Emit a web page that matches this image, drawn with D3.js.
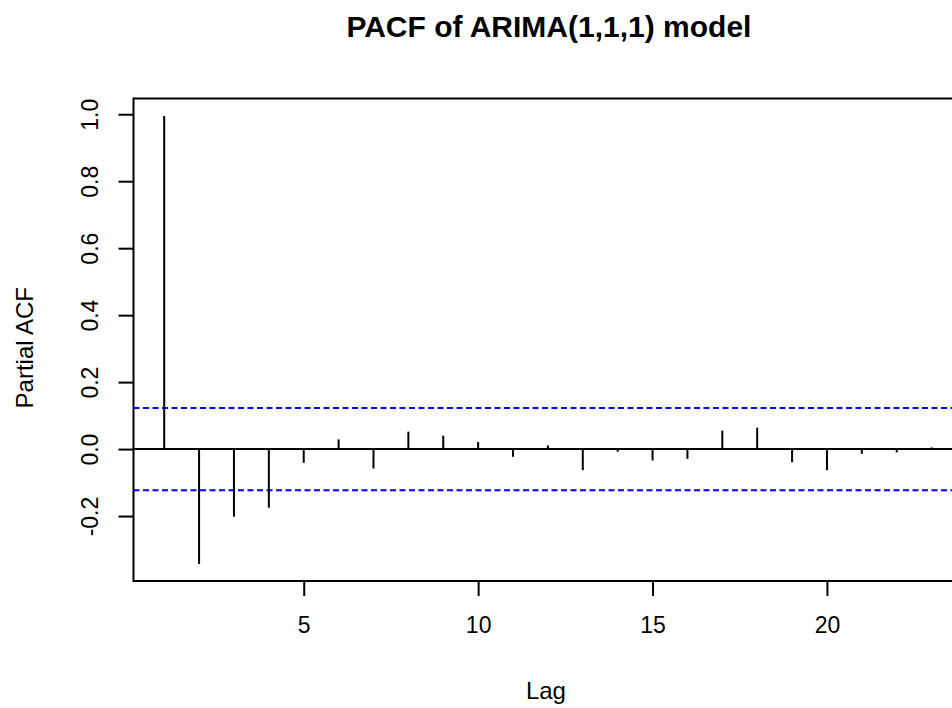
<!DOCTYPE html>
<html>
<head>
<meta charset="utf-8">
<script src="https://cdn.jsdelivr.net/npm/d3@7"></script>
<style>
  body { margin: 0; background: #fff; }
  svg { display: block; font-family: "Liberation Sans", Arial, sans-serif; }
</style>
</head>
<body>
<script>
(function() {

// lags and partial autocorrelations
var lags = [1, 2, 3, 4, 5, 6, 7, 8, 9, 10, 11, 12, 13, 14, 15, 16, 17, 18, 19, 20, 21, 22, 23];
var pacfValues = [0.995, -0.343, -0.202, -0.175, -0.041, 0.029, -0.058, 0.052, 0.040, 0.021, -0.023,
  0.011, -0.063, -0.008, -0.034, -0.029, 0.055, 0.064, -0.039, -0.063, -0.014, -0.010, 0.005];
var ciBound = 0.123;
var xTicks = [5, 10, 15, 20];
var yTicks = [-0.2, 0.0, 0.2, 0.4, 0.6, 0.8, 1.0];

var width = 952, height = 708;
var left = 133.5, top = 98.5, bottom = 581;
var lw = 2;

var data = lags.map(function(l, i) { return { lag: l, value: pacfValues[i] }; });

// R style xlim: 4% padding each side
var pad = 0.04 * (lags[lags.length - 1] - lags[0]);
var x = d3.scaleLinear().
  domain([lags[0] - pad, lags[lags.length - 1] + pad]).
  range([left, 962.3]);

var y = d3.scaleLinear().
  domain([-0.394, 1.047]).
  range([bottom, top]);

var svg = d3.select("body").
  append("svg").
  attr("width", width).
  attr("height", height);

var right = x.range()[1];
var mid = (left + right) / 2;

svg.append("text").
  attr("x", mid + 1).
  attr("y", 37).
  attr("text-anchor", "middle").
  attr("font-size", 30).
  attr("font-weight", "bold").
  attr("fill", "#000").
  text("PACF of ARIMA(1,1,1) model");

// plot box
svg.append("rect").
  attr("x", left).
  attr("y", top).
  attr("width", right - left).
  attr("height", bottom - top).
  attr("fill", "none").
  attr("stroke", "#000").
  attr("stroke-width", lw);

// zero line
svg.append("line").
  attr("x1", left).
  attr("x2", right).
  attr("y1", y(0)).
  attr("y2", y(0)).
  attr("stroke", "#000").
  attr("stroke-width", lw);

// confidence bounds
svg.selectAll("line.ci").
  data([ciBound, -ciBound]).
  enter().append("line").
  attr("class", "ci").
  attr("x1", left).
  attr("x2", right).
  attr("y1", function(d) { return y(d); }).
  attr("y2", function(d) { return y(d); }).
  attr("stroke", "#0000ff").
  attr("stroke-width", lw).
  attr("stroke-dasharray", "6,3.5");

// spikes
svg.selectAll("line.spike").
  data(data).
  enter().append("line").
  attr("class", "spike").
  attr("x1", function(d) { return x(d.lag); }).
  attr("x2", function(d) { return x(d.lag); }).
  attr("y1", y(0)).
  attr("y2", function(d) { return y(d.value); }).
  attr("stroke", "#000").
  attr("stroke-width", lw);

// axes
var xAxis = svg.append("g").
  attr("transform", "translate(0," + bottom + ")").
  call(d3.axisBottom(x).tickValues(xTicks).tickSize(15).tickFormat(d3.format("d")));

xAxis.select(".domain").remove();
xAxis.selectAll(".tick line").attr("stroke", "#000").attr("stroke-width", lw);
xAxis.selectAll(".tick text").
  attr("y", 52).
  attr("dy", 0).
  attr("font-size", 23).
  attr("font-family", "Liberation Sans, Arial, sans-serif").
  attr("fill", "#000");

var yAxis = svg.append("g").
  attr("transform", "translate(" + left + ",0)").
  call(d3.axisLeft(y).tickValues(yTicks).tickSize(15).tickFormat(d3.format(".1f")));

yAxis.select(".domain").remove();
yAxis.selectAll(".tick line").attr("stroke", "#000").attr("stroke-width", lw);
yAxis.selectAll(".tick text").
  attr("transform", "rotate(-90)").
  attr("x", 0).
  attr("y", -36).
  attr("dy", 0).
  attr("text-anchor", "middle").
  attr("font-size", 23).
  attr("font-family", "Liberation Sans, Arial, sans-serif").
  attr("fill", "#000").
  text(function(d) { return d3.format(".1f")(d).replace("\u2212", "-"); });

// axis titles
svg.append("text").
  attr("x", mid - 2).
  attr("y", 699).
  attr("text-anchor", "middle").
  attr("font-size", 24).
  attr("fill", "#000").
  text("Lag");

svg.append("text").
  attr("transform", "translate(33," + ((top + bottom) / 2 + 8) + ") rotate(-90)").
  attr("text-anchor", "middle").
  attr("font-size", 24).
  attr("fill", "#000").
  text("Partial ACF");

})();
</script>
</body>
</html>
